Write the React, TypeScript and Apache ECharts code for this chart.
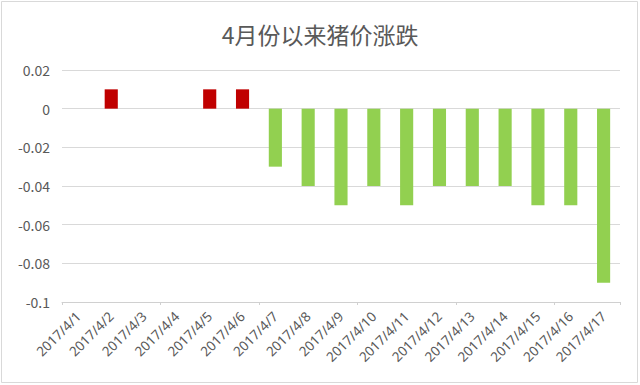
import React, { useEffect, useRef } from "react";
import * as echarts from "echarts";

const categories = [
  "2017/4/1", "2017/4/2", "2017/4/3", "2017/4/4", "2017/4/5", "2017/4/6",
  "2017/4/7", "2017/4/8", "2017/4/9", "2017/4/10", "2017/4/11", "2017/4/12",
  "2017/4/13", "2017/4/14", "2017/4/15", "2017/4/16", "2017/4/17",
];
const changes = [
  0, 0.01, 0, 0, 0.01, 0.01, -0.03, -0.04, -0.05, -0.04, -0.05, -0.04,
  -0.04, -0.04, -0.05, -0.05, -0.09,
];
const title = "4月份以来猪价涨跌";

export default function App() {
  const ref = useRef<HTMLDivElement>(null);
  useEffect(() => {
    const chart = echarts.init(ref.current!, null, { renderer: "svg" });
    const font = "'Noto Sans CJK SC', 'Noto Sans', sans-serif";
    chart.setOption({
      animation: false,
      backgroundColor: "#ffffff",
      title: {
        text: title,
        left: "center",
        top: 17,
        textStyle: { fontSize: 23, fontWeight: "normal", color: "#595959", fontFamily: font },
      },
      grid: { left: 62, right: 20, top: 70, bottom: 83 },
      xAxis: [
        {
          type: "category",
          data: categories,
          position: "bottom",
          axisLine: { show: false },
          axisTick: { show: false },
          axisLabel: {
            rotate: 45,
            interval: 0,
            margin: 12,
            color: "#595959",
            fontSize: 13.5,
            fontFamily: "'Noto Sans', sans-serif",
          },
        },
        {
          type: "category",
          data: categories,
          position: "bottom",
          axisLine: { show: true, onZero: true, lineStyle: { color: "#d0d0d0", width: 1 } },
          axisTick: { show: true, inside: false, length: 3, lineStyle: { color: "#d0d0d0" } },
          axisLabel: { show: false },
        },
      ],
      yAxis: {
        type: "value",
        min: -0.1,
        max: 0.02,
        interval: 0.02,
        axisLine: { show: false },
        axisTick: { show: false },
        splitLine: { lineStyle: { color: "#d9d9d9", width: 1 } },
        axisLabel: {
          color: "#595959",
          fontSize: 14,
          fontFamily: font,
          margin: 12,
          formatter: (v: number) => String(Math.round(v * 100) / 100),
        },
      },
      series: [
        {
          type: "bar",
          xAxisIndex: 0,
          data: changes.map((v) => ({
            value: v,
            itemStyle: { color: v > 0 ? "#c00000" : "#92d050" },
          })),
          barWidth: "40%",
        },
      ],
      graphic: [
        {
          type: "rect",
          shape: { x: 1.5, y: 1.5, width: 636, height: 381 },
          style: { fill: "none", stroke: "#d9d9d9", lineWidth: 1 },
          z: 100,
        },
      ],
    });
    return () => chart.dispose();
  }, []);
  return (
    <div
      ref={ref}
      style={{ position: "absolute", left: 0, top: 0, width: 640, height: 385 }}
    />
  );
}
